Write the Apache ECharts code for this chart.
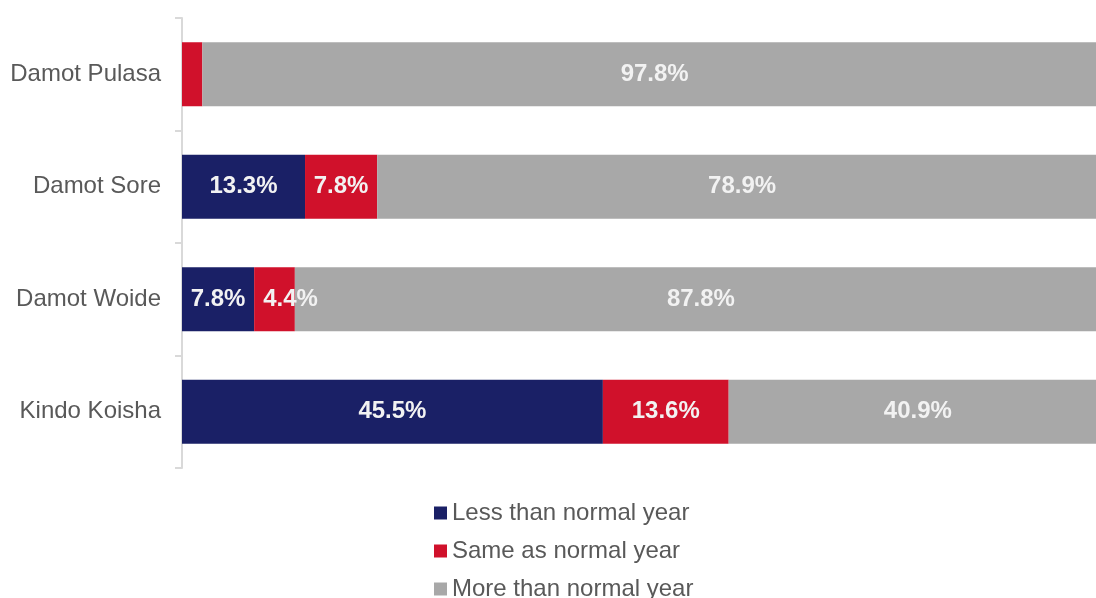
<!DOCTYPE html>
<html>
<head>
<meta charset="utf-8">
<style>
  html, body { margin: 0; padding: 0; background: #ffffff; }
  #chart { width: 1096px; height: 598px; }
</style>
<script src="https://cdn.jsdelivr.net/npm/echarts@6/dist/echarts.min.js"></script>
</head>
<body>
<div id="chart"></div>
<script>
// Woredas, top to bottom
const categories = ['Damot Pulasa', 'Damot Sore', 'Damot Woide', 'Kindo Koisha'];

// Share of households (%) by comparison with a normal year
const lessThanNormal = [0, 13.3, 7.8, 45.5];
const sameAsNormal   = [2.2, 7.8, 4.4, 13.6];
const moreThanNormal = [97.8, 78.9, 87.8, 40.9];

// Segments too narrow to carry a printed value
const hiddenLabels = {
  'Less than normal year': [0],
  'Same as normal year': [0],
  'More than normal year': []
};

// Labels nudged sideways so they do not collide with a neighbour
const labelNudges = {
  'Same as normal year': { 2: [16, 0] }
};

const seriesDefs = [
  { name: 'Less than normal year', values: lessThanNormal, color: '#1a2066' },
  { name: 'Same as normal year',   values: sameAsNormal,   color: '#d0112b' },
  { name: 'More than normal year', values: moreThanNormal, color: '#a8a8a8' }
];

const FONT = "'Liberation Sans', Arial, sans-serif";

const chart = echarts.init(document.getElementById('chart'), null, { renderer: 'canvas' });

const series = seriesDefs.map(def => ({
  name: def.name,
  type: 'bar',
  stack: 'total',
  barWidth: 64,
  itemStyle: { color: def.color },
  label: {
    show: true,
    position: 'inside',
    color: '#f2f2f2',
    fontFamily: FONT,
    fontWeight: 'bold',
    fontSize: 24,
    formatter: p => p.value.toFixed(1) + '%'
  },
  data: def.values.map((v, i) => {
    if (hiddenLabels[def.name].includes(i)) {
      return { value: v, label: { show: false } };
    }
    const nudge = (labelNudges[def.name] || {})[i];
    return nudge ? { value: v, label: { offset: nudge } } : v;
  })
}));

chart.setOption({
  animation: false,
  backgroundColor: '#ffffff',
  // plot area runs slightly past the right edge of the canvas
  grid: {
    left: 182, width: 925, top: 18, height: 450,
    containLabel: false,
    outerBoundsMode: 'none'
  },
  xAxis: {
    type: 'value',
    min: 0,
    max: 100,
    show: false
  },
  yAxis: {
    type: 'category',
    inverse: true,
    data: categories,
    axisLine: { show: true, lineStyle: { color: '#d9d9d9', width: 2 } },
    axisTick: { show: true, length: 7, lineStyle: { color: '#d9d9d9', width: 2 } },
    axisLabel: {
      color: '#595959',
      fontFamily: FONT,
      fontSize: 24,
      margin: 21
    },
    splitLine: { show: false }
  },
  legend: {
    orient: 'vertical',
    left: 429,
    top: 496,
    height: 200,
    itemWidth: 13,
    itemHeight: 13,
    itemGap: 14,
    icon: 'rect',
    textStyle: {
      color: '#595959',
      fontFamily: FONT,
      fontSize: 24,
      lineHeight: 24
    },
    data: seriesDefs.map(d => d.name)
  },
  series: series
});
</script>
</body>
</html>
